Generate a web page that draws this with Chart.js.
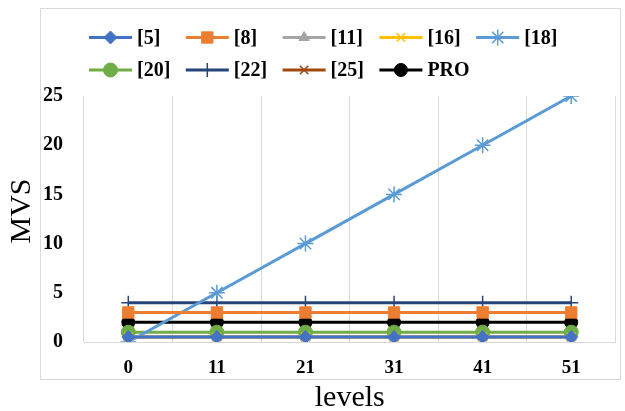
<!DOCTYPE html>
<html>
<head>
<meta charset="utf-8">
<script src="https://cdn.jsdelivr.net/npm/chart.js@4.4.1/dist/chart.umd.min.js"></script>
<style>
  html, body { margin: 0; padding: 0; background: #fff; }
</style>
</head>
<body>
<canvas id="chart" width="625" height="411"></canvas>
<script>
// x categories and y ticks
const levels = ['0', '11', '21', '31', '41', '51'];
const yTicks = [0, 5, 10, 15, 20, 25];

// series
const names = ['[5]', '[8]', '[11]', '[16]', '[18]', '[20]', '[22]', '[25]', 'PRO'];
const s5 = [0.5, 0.5, 0.5, 0.5, 0.5, 0.5];
const s8 = [3, 3, 3, 3, 3, 3];
const s11 = [0.5, 0.5, 0.5, 0.5, 0.5, 0.5];
const s16 = [0.5, 0.5, 0.5, 0.5, 0.5, 0.5];
const s18 = [0, 5, 10, 15, 20, 25];
const s20 = [1, 1, 1, 1, 1, 1];
const s22 = [4, 4, 4, 4, 4, 4];
const s25 = [0.5, 0.5, 0.5, 0.5, 0.5, 0.5];
const sPro = [2, 2, 2, 2, 2, 2];

const colors = ['#4472C4', '#ED7D31', '#A5A5A5', '#FFC000', '#5B9BD5', '#70AD47', '#264478', '#9E480E', '#000000'];
const styles = ['rectRot', 'rect', 'triangle', 'crossRot', 'star', 'circle', 'cross', 'crossRot', 'circle'];
const radii = [6.5, 8, 6, 6, 8, 7, 7, 6, 6.5];

const values = [s5, s8, s11, s16, s18, s20, s22, s25, sPro];

const serif = "'Liberation Serif', 'Times New Roman', serif";

const datasets = values.map((v, i) => ({
  label: names[i],
  data: v,
  borderColor: colors[i],
  backgroundColor: colors[i],
  borderWidth: 3,
  pointStyle: styles[i],
  pointRadius: radii[i],
  pointHoverRadius: radii[i],
  pointBackgroundColor: colors[i],
  pointBorderColor: colors[i],
  pointBorderWidth: (styles[i].indexOf('cross') === 0 || styles[i] === 'star') ? 1.5 : 1,
  tension: 0
}));

// outer frame like the office chart area, plus the y title
const framePlugin = {
  id: 'frame',
  beforeDraw(chart) {
    const ctx = chart.ctx;
    ctx.save();
    ctx.fillStyle = '#fff';
    ctx.fillRect(0, 0, chart.width, chart.height);
    ctx.strokeStyle = '#d9d9d9';
    ctx.lineWidth = 1;
    ctx.strokeRect(40.5, 8.5, 580, 371);
    ctx.restore();
  },
  afterDraw(chart) {
    const ctx = chart.ctx;
    ctx.save();
    ctx.translate(22, 211);
    ctx.rotate(-Math.PI / 2);
    ctx.fillStyle = '#000';
    ctx.font = '30px ' + serif;
    ctx.textAlign = 'center';
    ctx.textBaseline = 'middle';
    ctx.fillText('MVS', 0, 0);
    ctx.restore();
  }
};

// legend laid out in fixed columns, two rows
const gridLegend = {
  id: 'gridLegend',
  afterDraw(chart) {
    const ctx = chart.ctx;
    ctx.save();
    chart.data.datasets.forEach((ds, i) => {
      const col = i % 5;
      const row = Math.floor(i / 5);
      const x0 = 89 + col * 96.8;
      const y = 37.5 + row * 32.5;
      ctx.strokeStyle = ds.borderColor;
      ctx.lineWidth = 3;
      ctx.beginPath();
      ctx.moveTo(x0, y);
      ctx.lineTo(x0 + 43, y);
      ctx.stroke();
      ctx.fillStyle = ds.pointBackgroundColor;
      ctx.strokeStyle = ds.pointBorderColor;
      ctx.lineWidth = ds.pointBorderWidth;
      Chart.helpers.drawPoint(ctx, {
        pointStyle: ds.pointStyle,
        radius: ds.pointRadius,
        rotation: 0,
        borderWidth: ds.pointBorderWidth
      }, x0 + 21.5, y);
      ctx.fillStyle = '#000';
      ctx.font = 'bold 20px ' + serif;
      ctx.textAlign = 'left';
      ctx.textBaseline = 'middle';
      ctx.fillText(ds.label, x0 + 48, y + 1);
    });
    ctx.restore();
  }
};

new Chart(document.getElementById('chart'), {
  type: 'line',
  data: { labels: levels, datasets: datasets },
  options: {
    responsive: false,
    animation: false,
    devicePixelRatio: 1,
    layout: { padding: { top: 96, right: 8, bottom: 0, left: 0 } },
    plugins: {
      legend: { display: false },
      tooltip: { enabled: false }
    },
    scales: {
      x: {
        offset: true,
        grid: { display: true, offset: true, color: '#d9d9d9', lineWidth: 1, drawTicks: false },
        border: { display: true, color: '#d9d9d9' },
        ticks: { color: '#000', font: { family: serif, size: 19, weight: 'bold' }, padding: 15 },
        title: {
          display: true, text: 'levels', color: '#000',
          font: { family: serif, size: 30, lineHeight: 0.85 },
          padding: { top: 0, bottom: 0 }
        },
        afterFit(scale) { scale.height = 69; }
      },
      y: {
        min: 0,
        max: 25,
        afterBuildTicks(scale) { scale.ticks = yTicks.map(v => ({ value: v })); },
        grid: { display: false },
        border: { display: false },
        ticks: { color: '#000', font: { family: serif, size: 20, weight: 'bold' }, padding: 13 },
        afterFit(scale) { scale.width = 84; }
      }
    }
  },
  plugins: [framePlugin, gridLegend]
});
</script>
</body>
</html>
